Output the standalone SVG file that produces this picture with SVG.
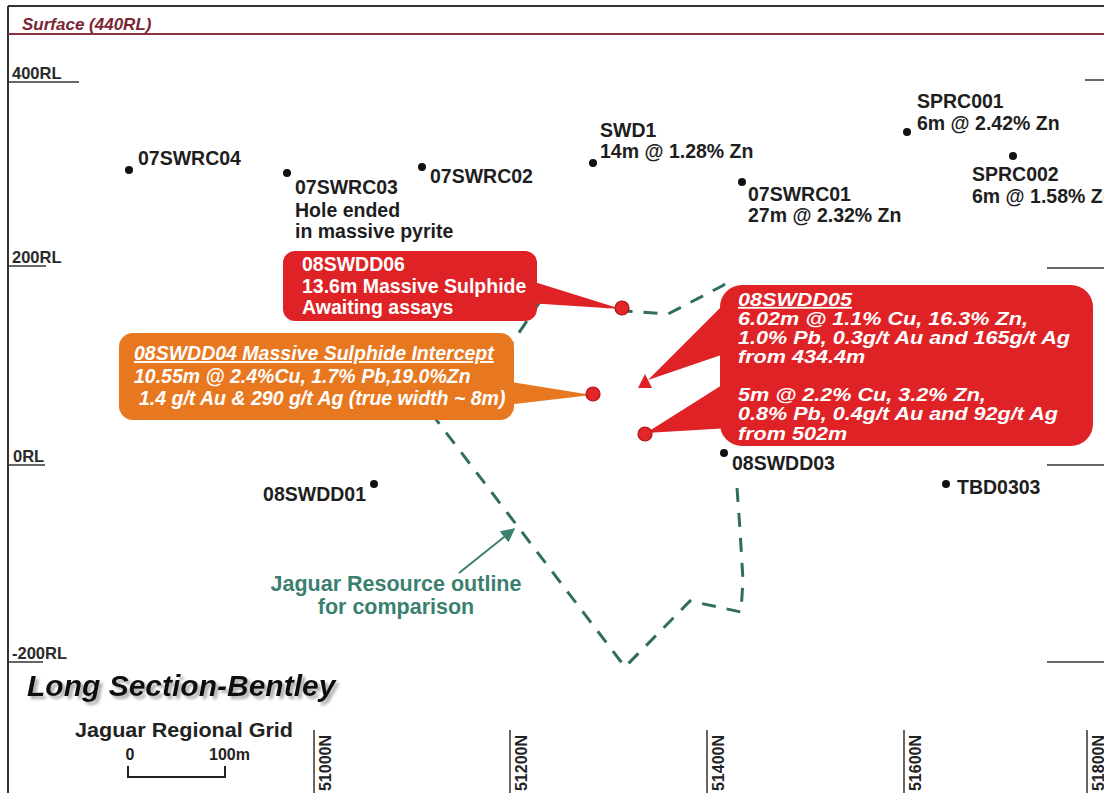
<svg xmlns="http://www.w3.org/2000/svg" width="1104" height="793" viewBox="0 0 1104 793">
<defs>
<style>
.lbl{font-family:"Liberation Sans",Arial,sans-serif;font-weight:bold;font-size:19.5px;fill:#1e1e1e}
.rl{font-family:"Liberation Sans",Arial,sans-serif;font-weight:bold;font-size:16.5px;fill:#2a2a2a}
.tick{stroke:#333;stroke-width:1.5;fill:none}
.dot{fill:#111}
.rdot{fill:#e3262a;stroke:#a81414;stroke-width:1.2}
.red{fill:#df2226}
.org{fill:#e8781f}
.wt{font-family:"Liberation Sans",Arial,sans-serif;font-weight:bold;fill:#fff}
.teal{font-family:"Liberation Sans",Arial,sans-serif;font-weight:bold;font-size:21.5px;fill:#3b7f6f}
.grid{font-family:"Liberation Sans",Arial,sans-serif;font-weight:bold;font-size:16px;fill:#222}
</style>
<marker id="ah" viewBox="0 0 10 10" refX="9" refY="5" markerWidth="14" markerHeight="14" markerUnits="userSpaceOnUse" orient="auto">
<path d="M0,0 L10,5 L0,10 z" fill="#3b7f6f"/>
</marker>
<filter id="sh" x="-10%" y="-40%" width="130%" height="200%">
<feGaussianBlur in="SourceAlpha" stdDeviation="1.8"/>
<feOffset dx="3" dy="3" result="b"/>
<feFlood flood-color="#888" flood-opacity="0.7"/>
<feComposite in2="b" operator="in"/>
<feMerge><feMergeNode/><feMergeNode in="SourceGraphic"/></feMerge>
</filter>
</defs>
<rect width="1104" height="793" fill="#fff"/>

<g id="frame">
<line x1="8" y1="6" x2="8" y2="793" stroke="#333" stroke-width="2"/>
<line x1="8" y1="6" x2="1104" y2="6" stroke="#333" stroke-width="2"/>
<line x1="8" y1="34" x2="1104" y2="34" stroke="#8b3341" stroke-width="1.8"/>
<text x="22" y="30" font-family="Liberation Sans, Arial, sans-serif" font-weight="bold" font-style="italic" font-size="17" fill="#7b2535">Surface (440RL)</text>
</g>

<g id="rl-scale">
<text class="rl" x="12" y="79">400RL</text>
<line class="tick" x1="8" y1="82" x2="79" y2="82"/>
<line class="tick" x1="1085" y1="80" x2="1104" y2="80"/>
<text class="rl" x="12" y="263">200RL</text>
<line class="tick" x1="8" y1="266" x2="46" y2="266"/>
<line class="tick" x1="1047" y1="268" x2="1104" y2="268"/>
<text class="rl" x="13" y="462">0RL</text>
<line class="tick" x1="8" y1="465" x2="45" y2="465"/>
<line class="tick" x1="1047" y1="465" x2="1104" y2="465"/>
<text class="rl" x="12" y="659">-200RL</text>
<line class="tick" x1="8" y1="662" x2="43" y2="662"/>
<line class="tick" x1="1047" y1="662" x2="1104" y2="662"/>
</g>

<g id="connectors">
<path d="M737,488 L740,530 L743,580 L741,612 L690,601 L625,667 L425,405 L480,390 L548,290 L600,305 L625,311 L668,314 L722,286 L730,281" fill="none" stroke="#2f6e5e" stroke-width="3" stroke-dasharray="14 11"/>
<line x1="459" y1="573" x2="514" y2="529" stroke="#3b7f6f" stroke-width="2" marker-end="url(#ah)"/>
</g>

<g id="hole-07SWRC04"><circle class="dot" cx="129" cy="170" r="4"/><text class="lbl" x="138" y="165">07SWRC04</text></g>
<g id="hole-07SWRC03"><circle class="dot" cx="287" cy="173" r="4"/><text class="lbl" x="295" y="194">07SWRC03</text><text class="lbl" x="295" y="217">Hole ended</text><text class="lbl" x="295" y="238">in massive pyrite</text></g>
<g id="hole-07SWRC02"><circle class="dot" cx="422" cy="167" r="4"/><text class="lbl" x="430" y="183">07SWRC02</text></g>
<g id="hole-SWD1"><circle class="dot" cx="593" cy="163" r="4"/><text class="lbl" x="600" y="137">SWD1</text><text class="lbl" x="600" y="158">14m @ 1.28% Zn</text></g>
<g id="hole-07SWRC01"><circle class="dot" cx="742" cy="182" r="4"/><text class="lbl" x="748" y="201">07SWRC01</text><text class="lbl" x="748" y="222">27m @ 2.32% Zn</text></g>
<g id="hole-SPRC001"><circle class="dot" cx="907" cy="132" r="4"/><text class="lbl" x="917" y="108">SPRC001</text><text class="lbl" x="917" y="130">6m @ 2.42% Zn</text></g>
<g id="hole-SPRC002"><circle class="dot" cx="1013" cy="156" r="4"/><text class="lbl" x="972" y="181">SPRC002</text><text class="lbl" x="972" y="203">6m @ 1.58% Zn</text></g>
<g id="hole-08SWDD03"><circle class="dot" cx="724" cy="453" r="4"/><text class="lbl" x="732" y="470">08SWDD03</text></g>
<g id="hole-08SWDD01"><circle class="dot" cx="374" cy="484" r="4"/><text class="lbl" x="366" y="501" text-anchor="end">08SWDD01</text></g>
<g id="hole-TBD0303"><circle class="dot" cx="946" cy="484" r="4"/><text class="lbl" x="957" y="494">TBD0303</text></g>

<g id="callout-08SWDD06">
<polygon class="red" points="528,280 528,303 621,309"/>
<rect class="red" x="283" y="251" width="254" height="70" rx="12"/>
<text class="wt" font-size="19.5" x="302" y="271">08SWDD06</text>
<text class="wt" font-size="19.5" x="302" y="293">13.6m Massive Sulphide</text>
<text class="wt" font-size="19.5" x="302" y="314">Awaiting assays</text>
<circle class="rdot" cx="622" cy="308" r="7"/>
</g>

<g id="callout-08SWDD04">
<polygon class="org" points="505,381 505,405 592,395"/>
<rect class="org" x="119" y="333" width="395" height="87" rx="14"/>
<g class="wt" font-size="19.5" font-style="italic">
<text x="134" y="360" text-decoration="underline">08SWDD04 Massive Sulphide Intercept</text>
<text x="134" y="383">10.55m @ 2.4%Cu, 1.7% Pb,19.0%Zn</text>
<text x="139" y="405">1.4 g/t Au &amp; 290 g/t Ag (true width ~ 8m)</text>
</g>
<circle class="rdot" cx="593" cy="394" r="7"/>
</g>

<g id="callout-08SWDD05">
<polygon class="red" points="730,298 730,352 648,380"/>
<polygon class="red" points="730,380 730,428 646,433"/>
<rect class="red" x="720" y="285" width="373" height="161" rx="22"/>
<polygon class="red" points="645,374 638,388 652,388"/>
<g class="wt" font-size="18" font-style="italic" transform="translate(738 0) scale(1.2 1)">
<text x="0" y="306" text-decoration="underline">08SWDD05</text>
<text x="0" y="325">6.02m @ 1.1% Cu, 16.3% Zn,</text>
<text x="0" y="344">1.0% Pb, 0.3g/t Au and 165g/t Ag</text>
<text x="0" y="363">from 434.4m</text>
<text x="0" y="401">5m @ 2.2% Cu, 3.2% Zn,</text>
<text x="0" y="420">0.8% Pb, 0.4g/t Au and 92g/t Ag</text>
<text x="0" y="440">from 502m</text>
</g>
<circle class="rdot" cx="645" cy="434" r="7"/>
</g>

<g id="resource-label">
<text class="teal" x="396" y="591" text-anchor="middle">Jaguar Resource outline</text>
<text class="teal" x="396" y="614" text-anchor="middle">for comparison</text>
</g>

<g id="title">
<text x="27" y="696" font-family="Liberation Sans, Arial, sans-serif" font-weight="bold" font-style="italic" font-size="30" fill="#111" filter="url(#sh)">Long Section-Bentley</text>
</g>

<g id="scale-bar">
<text x="75" y="737" font-family="Liberation Sans, Arial, sans-serif" font-weight="bold" font-size="20" fill="#222" textLength="218" lengthAdjust="spacingAndGlyphs">Jaguar Regional Grid</text>
<text class="grid" x="130" y="760" text-anchor="middle">0</text>
<text class="grid" x="209" y="760">100m</text>
<path d="M128,766 V777 H225 V766" fill="none" stroke="#222" stroke-width="2"/>
</g>

<g id="northings">
<line class="tick" x1="314" y1="730" x2="314" y2="793"/>
<text class="grid" transform="translate(331 735) rotate(-90)" text-anchor="end">51000N</text>
<line class="tick" x1="510" y1="730" x2="510" y2="793"/>
<text class="grid" transform="translate(527 735) rotate(-90)" text-anchor="end">51200N</text>
<line class="tick" x1="707" y1="730" x2="707" y2="793"/>
<text class="grid" transform="translate(724 735) rotate(-90)" text-anchor="end">51400N</text>
<line class="tick" x1="904" y1="730" x2="904" y2="793"/>
<text class="grid" transform="translate(921 735) rotate(-90)" text-anchor="end">51600N</text>
<line class="tick" x1="1087" y1="730" x2="1087" y2="793"/>
<text class="grid" transform="translate(1104 735) rotate(-90)" text-anchor="end">51800N</text>
</g>
</svg>
